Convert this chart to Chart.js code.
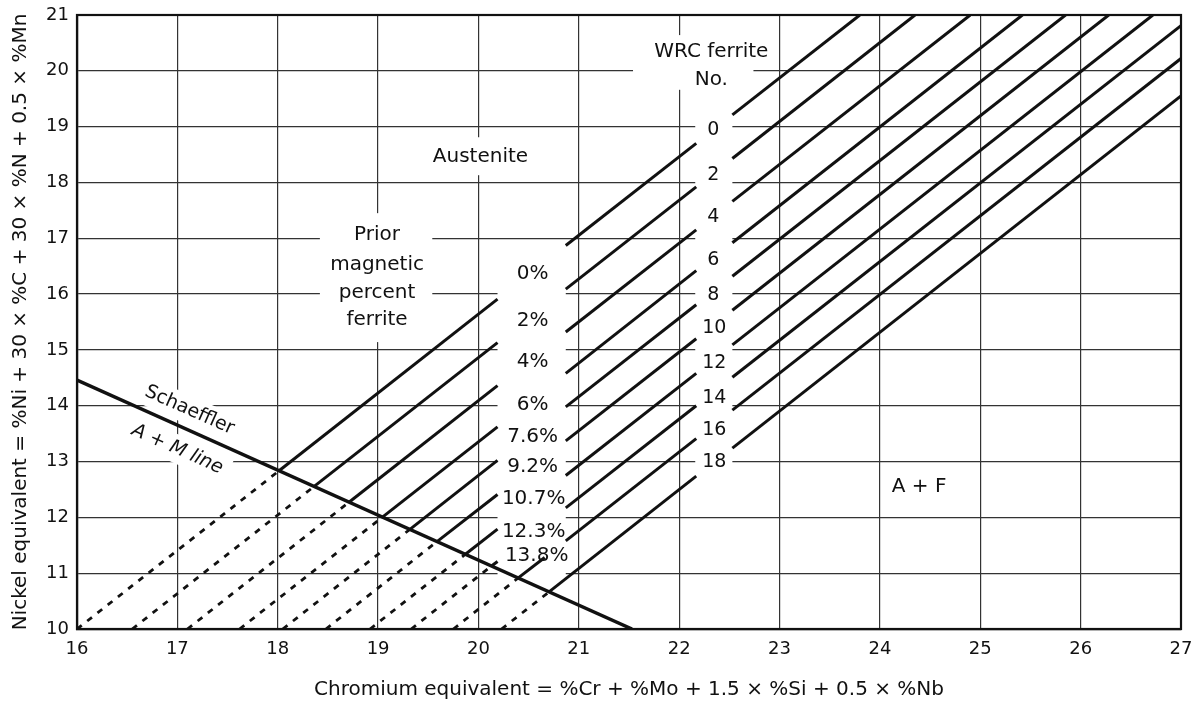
<!DOCTYPE html>
<html>
<head>
<meta charset="utf-8">
<script src="https://cdn.jsdelivr.net/npm/chart.js@4.4.1/dist/chart.umd.min.js"></script>
<style>
  html, body { margin: 0; padding: 0; background: #fff; }
  #wrap { width: 1193px; height: 703px; }
</style>
</head>
<body>
<div id="wrap"><canvas id="chart"></canvas></div>
<script>
const xTicks = [16, 17, 18, 19, 20, 21, 22, 23, 24, 25, 26, 27];
const yTicks = [10, 11, 12, 13, 14, 15, 16, 17, 18, 19, 20, 21];

const pctLabels = ['0%', '2%', '4%', '6%', '7.6%', '9.2%', '10.7%', '12.3%', '13.8%'];
const wrcLabels = ['0', '2', '4', '6', '8', '10', '12', '14', '16', '18'];

// Schaeffler A + M line
const schaeffler = [[16, 14.46], [21.53, 10]];

// iso-ferrite lines, 0% / FN 0 first; each list holds one point per line
const dashStart = [[16.00, 10], [16.55, 10], [17.10, 10], [17.62, 10], [18.05, 10],
                   [18.48, 10], [18.92, 10], [19.33, 10], [19.75, 10], [20.23, 10]];
const onSchaeffler = [[18.01, 12.83], [18.36, 12.55], [18.71, 12.27], [19.04, 12.00], [19.32, 11.79],
                      [19.59, 11.57], [19.87, 11.34], [20.13, 11.13], [20.40, 10.92], [20.70, 10.66]];
const pctGapLow = [[20.19, 15.91], [20.19, 15.13], [20.19, 14.36], [20.19, 13.62], [20.19, 13.02],
                   [20.19, 12.41], [20.19, 11.79], [20.19, 11.21], [20.66, 11.28], null];
const pctGapHigh = [[20.87, 16.87], [20.87, 16.09], [20.87, 15.32], [20.87, 14.58], [20.87, 13.98],
                    [20.87, 13.37], [20.87, 12.75], [20.87, 12.17], [20.87, 11.58], null];
const wrcGapLow = [[22.17, 18.70], [22.17, 17.92], [22.17, 17.15], [22.17, 16.42], [22.17, 15.81],
                   [22.17, 15.20], [22.17, 14.58], [22.17, 14.00], [22.17, 13.41], [22.17, 12.74]];
const wrcGapHigh = [[22.53, 19.21], [22.53, 18.43], [22.53, 17.66], [22.53, 16.92], [22.53, 16.32],
                    [22.53, 15.71], [22.53, 15.09], [22.53, 14.51], [22.53, 13.92], [22.53, 13.24]];
const lineEnd = [[23.80, 21], [24.35, 21], [24.90, 21], [25.42, 21], [25.85, 21],
                 [26.28, 21], [26.72, 21], [27, 20.81], [27, 20.22], [27, 19.55]];

const FONT = '"DejaVu Sans", "Liberation Sans", sans-serif';
const INK = '#111';

const pt = p => ({ x: p[0], y: p[1] });

function segment(a, b, dashed) {
  return {
    data: [pt(a), pt(b)],
    showLine: true,
    borderColor: INK,
    borderWidth: dashed ? 2.8 : 3,
    borderDash: dashed ? [6, 7] : [],
    pointRadius: 0,
    fill: false
  };
}

const datasets = [];
datasets.push(Object.assign(segment(schaeffler[0], schaeffler[1], false), { borderWidth: 3.5 }));
for (let i = 0; i < dashStart.length; i++) {
  datasets.push(segment(dashStart[i], onSchaeffler[i], true));
  if (pctGapLow[i]) {
    datasets.push(segment(onSchaeffler[i], pctGapLow[i], false));
    datasets.push(segment(pctGapHigh[i], wrcGapLow[i], false));
  } else {
    datasets.push(segment(onSchaeffler[i], wrcGapLow[i], false));
  }
  datasets.push(segment(wrcGapHigh[i], lineEnd[i], false));
}

// label placement (data units)
const pctPos = [[20.54, 16.36], [20.54, 15.53], [20.54, 14.78], [20.54, 14.01], [20.54, 13.44],
                [20.54, 12.90], [20.55, 12.33], [20.55, 11.75], [20.58, 11.32]];
const wrcPos = [[22.34, 18.94], [22.34, 18.13], [22.34, 17.38], [22.34, 16.61], [22.34, 15.98],
                [22.35, 15.39], [22.35, 14.76], [22.35, 14.14], [22.35, 13.56], [22.35, 12.99]];
// white boxes that break the grid under the text: [x1, x2, y1, y2]
const masks = [
  [18.42, 19.54, 15.14, 17.45],
  [19.52, 20.51, 18.13, 18.81],
  [21.54, 22.74, 19.66, 20.64],
  [22.16, 22.53, 12.67, 19.30],
  [20.19, 20.87, 10.91, 16.70]
];

const diagramLabels = {
  id: 'diagramLabels',
  beforeDatasetsDraw(chart) {
    const { ctx, chartArea: a, scales: { x, y } } = chart;
    const px = v => x.getPixelForValue(v);
    const py = v => y.getPixelForValue(v);
    ctx.save();
    ctx.fillStyle = '#fff';
    masks.forEach(m => {
      ctx.fillRect(px(m[0]), py(m[3]), px(m[1]) - px(m[0]), py(m[2]) - py(m[3]));
    });

    ctx.strokeStyle = INK;
    ctx.lineWidth = 2.2;
    ctx.strokeRect(a.left, a.top, a.right - a.left, a.bottom - a.top);

    ctx.fillStyle = INK;
    ctx.textAlign = 'center';
    ctx.textBaseline = 'middle';
    ctx.font = '20px ' + FONT;
    pctLabels.forEach((t, i) => ctx.fillText(t, px(pctPos[i][0]), py(pctPos[i][1])));
    ctx.font = '19px ' + FONT;
    wrcLabels.forEach((t, i) => ctx.fillText(t, px(wrcPos[i][0]), py(wrcPos[i][1])));

    ctx.font = '20px ' + FONT;
    ctx.fillText('Austenite', px(20.02), py(18.46));
    ['Prior', 'magnetic', 'percent', 'ferrite'].forEach((t, i) => {
      ctx.fillText(t, px(18.99), py([17.06, 16.52, 16.02, 15.54][i]));
    });
    ctx.fillText('WRC ferrite', px(22.32), py(20.34));
    ctx.fillText('No.', px(22.32), py(19.84));
    ctx.fillText('A + F', px(24.39), py(12.54));

    const rotated = (text, vx, vy, font, w) => {
      ctx.save();
      ctx.translate(px(vx), py(vy));
      ctx.rotate(24 * Math.PI / 180);
      ctx.fillStyle = '#fff';
      ctx.fillRect(-w / 2, -14, w, 28);
      ctx.fillStyle = INK;
      ctx.font = font;
      ctx.fillText(text, 0, 0);
      ctx.restore();
    };
    rotated('Schaeffler', 17.12, 13.92, '19px ' + FONT, 112);
    rotated('A + M line', 17.0, 13.22, 'italic 19px ' + FONT, 112);
    ctx.restore();
  }
};

const gridStyle = { color: '#333', lineWidth: 1.2, drawTicks: false };

new Chart(document.getElementById('chart'), {
  type: 'scatter',
  data: { datasets: datasets },
  plugins: [diagramLabels],
  options: {
    responsive: true,
    maintainAspectRatio: false,
    animation: false,
    events: [],
    layout: { padding: { left: 0, right: 12, top: 15, bottom: 0 } },
    plugins: { legend: { display: false }, tooltip: { enabled: false } },
    scales: {
      x: {
        type: 'linear',
        min: 16,
        max: 27,
        afterBuildTicks: s => { s.ticks = xTicks.map(v => ({ value: v })); },
        afterFit: s => { s.height = 74; s.paddingLeft = 0; s.paddingRight = 0; },
        grid: gridStyle,
        border: { color: INK, width: 2.2 },
        ticks: { color: INK, padding: 10, font: { family: FONT, size: 18 } },
        title: {
          display: true,
          text: 'Chromium equivalent = %Cr + %Mo + 1.5 × %Si + 0.5 × %Nb',
          color: INK,
          font: { family: FONT, size: 20 },
          padding: { top: 4, bottom: 1 }
        }
      },
      y: {
        type: 'linear',
        min: 10,
        max: 21,
        afterBuildTicks: s => { s.ticks = yTicks.map(v => ({ value: v })); },
        afterFit: s => { s.width = 77; s.paddingTop = 0; s.paddingBottom = 0; },
        grid: gridStyle,
        border: { color: INK, width: 2.2 },
        ticks: { color: INK, padding: 8, font: { family: FONT, size: 18 } },
        title: {
          display: true,
          text: 'Nickel equivalent = %Ni + 30 × %C + 30 × %N + 0.5 × %Mn',
          color: INK,
          font: { family: FONT, size: 20 },
          padding: { top: 9, bottom: 4 }
        }
      }
    }
  }
});
</script>
</body>
</html>
